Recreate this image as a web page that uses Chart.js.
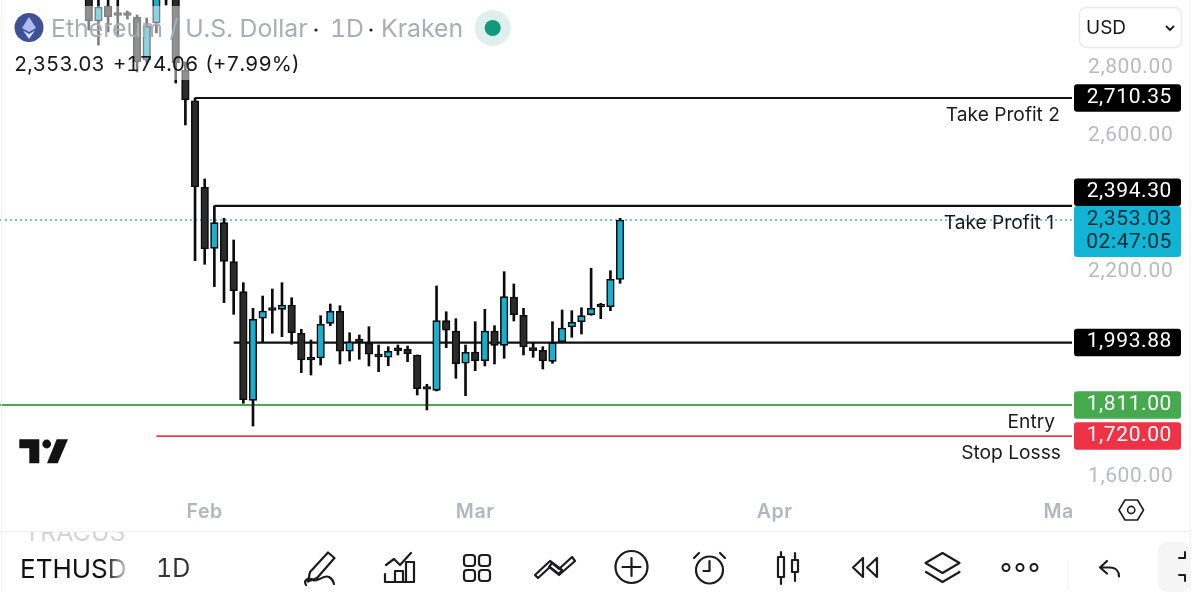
<!DOCTYPE html>
<html><head><meta charset="utf-8">
<script src="https://cdn.jsdelivr.net/npm/chart.js@4"></script>
<style>
html,body{margin:0;padding:0;background:#fff;width:1200px;height:592px;overflow:hidden}
body{font-family:Inter,"Noto Sans",sans-serif;position:relative}
#c{position:absolute;left:0;top:0}
svg{position:absolute;left:0;top:0}
.t{position:absolute;white-space:nowrap;line-height:1;font-feature-settings:'tnum'}
</style></head><body>
<canvas id="c" width="1200" height="592"></canvas>
<svg width="1200" height="592" viewBox="0 0 1200 592" fill="none" stroke="#1c1c1e" stroke-width="2.2" stroke-linecap="round" stroke-linejoin="round">
  <line x1="1.5" y1="0" x2="1.5" y2="592" stroke="#f0f0f2" stroke-width="1"/>
  <line x1="1190" y1="0" x2="1190" y2="592" stroke="#f0f0f2" stroke-width="1"/>
  <line x1="0" y1="531.5" x2="1190" y2="531.5" stroke="#f0f0f2" stroke-width="1"/>
  <rect x="1158" y="542" width="32" height="50" rx="9" fill="#f5f5f6" stroke="none"/>
  <circle cx="29" cy="27.5" r="14.5" fill="#3f5196" stroke="none"/>
  <path d="M29 17l7 11-7 4-7-4z" fill="#aebdf0" stroke="none"/>
  <path d="M29 34l6-3.6L29 39l-6-8.6z" fill="#d5ddf7" stroke="none"/>
  <circle cx="492.7" cy="28" r="18" fill="#dff0ec" stroke="none"/>
  <circle cx="492.7" cy="28" r="8" fill="#0e9a7b" stroke="none"/>
  <circle cx="316" cy="30" r="1.6" fill="#222" stroke="none"/>
  <circle cx="371" cy="30" r="1.6" fill="#222" stroke="none"/>
  <rect x="1079.5" y="7.5" width="102" height="40" rx="7" stroke="#e9e9ec" stroke-width="1.4"/>
  <path d="M1166.5 26.5l3.5 3.5 3.5-3.5" stroke-width="1.8"/>
  <path d="M19.3 439.3H39.3V463.3H29.3V448.3H19.3z" fill="#131313" stroke="none"/>
  <circle cx="46.7" cy="444" r="4.4" fill="#131313" stroke="none"/>
  <path d="M56.7 439.3H68L57.700 463.3H47z" fill="#131313" stroke="none"/>
  <path d="M1125 500h12.5l6 10-6 10H1125l-6-10z" stroke-width="1.6"/>
  <circle cx="1131.2" cy="510" r="3.6" stroke-width="1.6"/>
  <path d="M328 552.5l6.5 5.5-17.5 20-9 3.5 2-9.5z"/>
  <path d="M306 585c-3-5 3-8 7-5s11-6 16-3 4 5 5 7"/>
  <path d="M385 574v8h29v-20h-8v20M395 582v-11h8v11"/>
  <path d="M386 565l8-6 6 6 11-12"/>
  <rect x="464" y="555" width="11" height="11" rx="3"/><rect x="479" y="555" width="11" height="11" rx="3"/>
  <rect x="464" y="570" width="11" height="11" rx="3"/><rect x="479" y="570" width="11" height="11" rx="3"/>
  <path d="M538 578l12-11 9 7 3-4-12-9-15 14z"/>
  <path d="M552 563l7 6 13-12 3 4-16 14-10-8z"/>
  <circle cx="631.5" cy="567" r="16"/><path d="M631.5 558v18M622.5 567h18"/>
  <circle cx="709.5" cy="570" r="13.5"/><path d="M709.5 561v10h-6M694 558l5-5M725 558l-5-5"/>
  <path d="M781 552v32M795 553v28"/>
  <rect x="778" y="557" width="6" height="20" fill="#fff"/><rect x="792" y="560" width="6" height="12" fill="#fff"/>
  <path d="M863 558v19l-10-9.500zM877 558v19l-10-9.500z"/>
  <path d="M942.500 553l17 10-17 10-17-10z"/><path d="M926 572l16.500 10 17-10"/>
  <circle cx="1006" cy="567.500" r="3.500" stroke-width="2"/><circle cx="1020" cy="567.500" r="3.500" stroke-width="2"/><circle cx="1034" cy="567.500" r="3.500" stroke-width="2"/>
  <line x1="1068" y1="560" x2="1068" y2="590" stroke="#f0f0f2" stroke-width="1"/>
  <path d="M1107 561l-7 6.500 7 6M1100 567.500h10c6 0 9 4 9 9"/>
  <path d="M1179 558h6v-6M1179 575h6v6" stroke-width="2"/>
</svg>
<div class="t" style="left:51px;top:15.5px;font-size:24.8px;color:#a9adb5">Ethereum / U.S. Dollar</div>
<div class="t" style="left:330px;top:15.5px;font-size:24.8px;color:#a9adb5">1D</div>
<div class="t" style="left:381px;top:15.5px;font-size:24.8px;color:#a9adb5">Kraken</div>
<div class="t" style="left:14px;top:54px;font-size:20.5px;color:#18181a">2,353.03</div>
<div class="t" style="left:113px;top:54px;font-size:20.5px;color:#18181a">+174.06</div>
<div class="t" style="left:205px;top:54px;font-size:20.5px;color:#18181a">(+7.99%)</div>
<div class="t" style="left:1086px;top:18px;font-size:19px;color:#18181a">USD</div>
<div class="t" style="left:24px;top:532px;height:9px;overflow:hidden;font-size:25px;color:#d4d4d8;width:110px"><span style="position:relative;top:-12px;display:block">TRACUS</span></div>
<div class="t" style="left:20px;top:556px;font-size:26px;background:linear-gradient(90deg,#111 0,#111 78%,#ddd 100%);-webkit-background-clip:text;background-clip:text;color:transparent;padding-right:2px">ETHUSD</div>
<div class="t" style="left:156px;top:556px;font-size:25px;color:#333">1D</div>
<script>
// Daily candles: days counted from 1 Feb
const dayOffsets = [-12,-11,-10,-9,-8,-7,-6,-5,-4,-3,-2,-1,0,1,2,3,4,5,6,7,8,9,10,11,12,13,14,15,16,17,18,19,20,21,22,23,24,25,26,27,28,29,30,31,32,33,34,35,36,37,38,39,40,41,42,43];
const opens = [3020.8,2935.9,2979.8,2954.9,2954.9,2947.6,2821.7,2930,3085.3,3015,2792.4,2702.4,2448.8,2270.1,2345.1,2230.9,2143,1824.9,2065.1,2092.3,2091.4,2104,2021.2,1946.8,1948.8,2050.4,2085.6,1968.5,1998.6,1992.7,1956.7,1950.9,1973.1,1974.3,1957.6,1860.1,1854.2,2058.1,2027.9,1933.3,1966.4,1940.9,2027.9,1986,2127.5,2073.9,1979,1971.4,1939.1,1996.6,2039.6,2055.2,2075.6,2101.1,2099.1,2178.97];
const highs = [3056,3012,3012,3012,2965.2,2953.5,2944.7,3032.5,3110,3032.5,2815.8,2710.4,2473.1,2394.3,2358,2294.4,2169.4,2094.4,2130.4,2150.9,2169.4,2125.4,2032.9,2001.5,2072.7,2107,2102,2022.9,2016.2,2040.5,1986.9,1981.9,1986.9,1983.9,1957.6,1871.8,2159.7,2084.4,2064,1986.9,2055.2,2091.4,2043.4,2201.6,2165.6,2094.4,1991.9,1981.9,2055.2,2089.4,2087.4,2096.1,2211.6,2109,2204.5,2358];
const lows = [2909.5,2865.6,2903.7,2889,2941.7,2786.5,2812.9,2900.7,2982.8,2754.3,2631.3,2233.8,2223.3,2157.7,2110.8,2076.8,1816.1,1749.6,1996.6,2021.2,2011.2,1988.9,1905.8,1899,1928.3,2043.4,1931.2,1940.1,1945,1925.4,1908.7,1926.3,1957.6,1938,1840.4,1796.5,1852.2,1979,1889.4,1838.4,1911.6,1925.4,1931.2,1947.9,2057.2,1957.6,1950.9,1916.6,1933.3,1993.6,2009.4,2019.1,2073.9,2064,2087.4,2167.6];
const closes = [2935.9,2976.9,2947.6,2952,2952,2815.8,2921.2,3015,3026.7,2812.9,2704.5,2449.7,2268.1,2345.1,2232,2145.9,1826.7,2062.2,2086.5,2088.5,2104,2022.9,1942.9,1942.9,2047.5,2085.6,1968.5,1995.7,1995.7,1959.7,1951.8,1968.5,1970.2,1960.5,1858.9,1857.2,2058.1,2030,1932.1,1965.5,1940.9,2027.9,1986,2128.4,2075.6,1981,1970.2,1940,1993.6,2036.7,2053.4,2072.7,2094.4,2098.2,2179.3,2353.03];

const priceTicks = [1600,2200,2600,2800];
const monthTicks = [0,28,59,88.4];
const monthLabels = ['Feb','Mar','Apr','Ma'];

const lastPrice = 2353.03;
const countdown = '02:47:05';
const levelPrices = [2710.35,2394.30,1993.88,1811.00,1720.00];
const levelStartDays = [-1,1,3,null,-5];
const levelTexts = ['Take Profit 2','Take Profit 1','','Entry','Stop Losss'];

const fmt = v => v.toLocaleString('en-US',{minimumFractionDigits:2,maximumFractionDigits:2});
const UP='#17b1cf', DOWN='#2b2b2b', EDGE='#0c0c0c';
const levelColors=['#111','#111','#111','#4aa84f','#e8404f'];
const tagColors=['#000','#000','#000','#46a94e','#ee3346'];
const labelRight=[1060,1054,0,1055,1061];
const X_MIN=-21.19, X_MAX=89.78, Y_MIN=1556.3, Y_MAX=2997.4;

const candles = dayOffsets.map((d,i)=>({x:d,y:[opens[i],closes[i]]}));
const wicks = dayOffsets.map((d,i)=>({x:d,y:[lows[i],highs[i]]}));
const bodyColors = dayOffsets.map((d,i)=>closes[i]>=opens[i]?UP:DOWN);

const levelSets = levelPrices.map((p,i)=>({
  type:'line', order:3, data:[{x:levelStartDays[i]===null?X_MIN:levelStartDays[i],y:p},{x:X_MAX,y:p}],
  borderColor:levelColors[i], borderWidth:i>=3?1.9:2.1, pointRadius:0, tension:0
}));
const lastLine={type:'line',order:4,data:[{x:X_MIN,y:lastPrice},{x:X_MAX,y:lastPrice}],borderColor:'#41b6c6',borderWidth:1.7,borderDash:[2,3],pointRadius:0};

const decor={id:'decor',
  beforeDraw(ch){ch.ctx.letterSpacing='0.6px';},
  afterDatasetsDraw(ch){
    const c=ch.ctx; c.save(); c.fillStyle='rgba(255,255,255,0.48)'; c.fillRect(0,6,470,74); c.restore();
  },
  afterDraw(ch){
    const c=ch.ctx,ys=ch.scales.y; c.save();
    const rr=(x,y,w,h,col)=>{c.fillStyle=col;c.beginPath();c.roundRect(x,y,w,h,3);c.fill();};
    c.textAlign='right';c.textBaseline='middle';c.letterSpacing='0.6px';
    const L=1074,W=107,H=27.5;
    const py=ys.getPixelForValue(lastPrice);
    const cyTop=py-14; rr(L,cyTop,W,51,'#12b4d4');
    c.font='21px Roboto'; c.fillStyle='#0c2b3a';
    c.fillText(fmt(lastPrice),1172,py); c.fillText(countdown,1172,py+22.5);
    levelPrices.forEach((p,i)=>{
      const y=ys.getPixelForValue(p); let top=y-H/2;
      if(top+H>cyTop && top<cyTop+51) top=cyTop-H;
      rr(L,top,W,H,tagColors[i]);
      c.fillStyle='#fff'; c.font='21px Roboto'; c.letterSpacing='0.6px';
      c.fillText(fmt(p),1172,top+H/2-0.5);
      if(levelTexts[i]){c.fillStyle='#1a1a1a';c.font='19.2px Inter';c.letterSpacing='0px';c.fillText(levelTexts[i],labelRight[i],y+17);}
    });
    c.restore();
  }};

new Chart(document.getElementById('c'),{
  type:'bar',
  data:{datasets:[
    {data:wicks,order:2,backgroundColor:'#0c0c0c',barThickness:2,borderWidth:0,grouped:false},
    {data:candles,order:1,backgroundColor:bodyColors,borderColor:EDGE,borderWidth:1.6,borderSkipped:false,barThickness:7.6,minBarLength:2.8,grouped:false},
    ...levelSets,lastLine
  ]},
  plugins:[decor],
  options:{
    responsive:false,animation:false,events:[],
    layout:{padding:0},
    plugins:{legend:{display:false},tooltip:{enabled:false},title:{display:false}},
    scales:{
      x:{type:'linear',offset:false,min:X_MIN,max:X_MAX,grid:{display:false,drawTicks:false},border:{display:false},
        afterFit(s){s.height=100;s.paddingLeft=0;s.paddingRight=0;},
        afterBuildTicks(s){s.ticks=monthTicks.map(v=>({value:v}));},
        ticks:{autoSkip:false,maxRotation:0,padding:8,color:'#b4b6bf',font:{family:'Inter',size:19.5,weight:'600'},
          callback(v){return monthLabels[monthTicks.indexOf(v)];}}},
      y:{type:'linear',position:'right',min:Y_MIN,max:Y_MAX,grid:{display:false,drawTicks:false},border:{display:false},
        afterFit(s){s.width=128;s.paddingTop=0;s.paddingBottom=0;},
        afterBuildTicks(s){s.ticks=priceTicks.map(v=>({value:v}));},
        ticks:{padding:16,color:'#b8bac0',font:{family:'Roboto',size:21},callback:v=>fmt(v)}}
    }
  }
});
</script>
</body></html>
